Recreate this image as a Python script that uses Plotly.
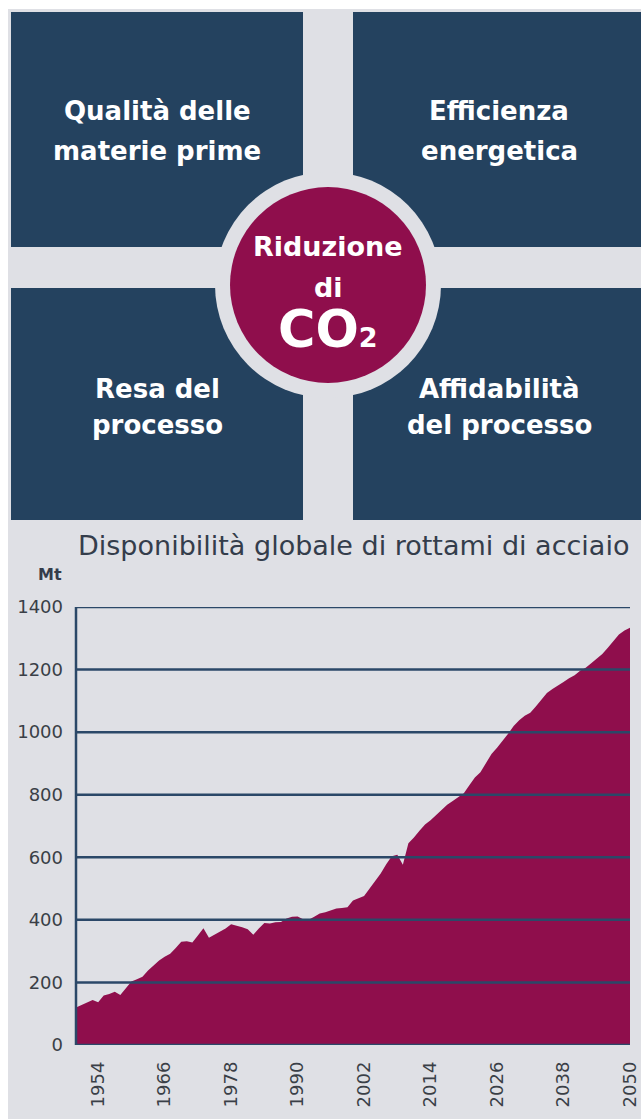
import plotly.graph_objects as go

# ---------------- data ----------------
years = list(range(1950, 2051))
scrap_mt = [120, 128, 135, 144, 137, 158, 163, 170, 160, 182,
            203, 210, 218, 238, 255, 270, 282, 292, 310, 330,
            332, 328, 350, 373, 343, 352, 362, 372, 386, 382,
            376, 370, 352, 372, 390, 388, 392, 393, 404, 410,
            411, 402, 400, 410, 420, 424, 430, 436, 438, 440,
            462, 468, 476, 500, 525, 548, 578, 603, 608, 576,
            645, 663, 685, 705, 718, 735, 752, 768, 780, 792,
            805, 830, 855, 872, 900, 930, 950, 972, 995, 1020,
            1038, 1052, 1062, 1082, 1104, 1125, 1138, 1148, 1160, 1172,
            1182, 1196, 1206, 1220, 1235, 1250, 1270, 1292, 1312, 1325,
            1334]
x_ticks = [1954, 1966, 1978, 1990, 2002, 2014, 2026, 2038, 2050]
y_ticks = [0, 200, 400, 600, 800, 1000, 1200, 1400]

chart_title = "Disponibilità globale di rottami di acciaio"
unit_label = "Mt"
quadrant_labels = [["Qualità delle", "materie prime"],
                   ["Efficienza", "energetica"],
                   ["Resa del", "processo"],
                   ["Affidabilità", "del processo"]]
center_labels = ["Riduzione", "di", "CO<span style='font-size:27px'>2</span>"]

# ---------------- styling ----------------
W, H = 641, 1119
NAVY = "#24425f"
CRIMSON = "#8f0e4c"
GRAY = "#dfe0e5"
GRID = "#2b4868"
TXT = "#343d4b"
FONT = "DejaVu Sans"


def px(x):
    return x / W


def py(y):
    return 1 - y / H


shapes = []
# light gray background panel
shapes.append(dict(type="rect", xref="paper", yref="paper", layer="below",
                   x0=px(8), x1=px(W), y0=py(H), y1=py(9),
                   fillcolor=GRAY, line=dict(width=0)))
# four navy quadrants
quads = [(11, 303, 12, 247), (353, W, 12, 247), (11, 303, 288, 520), (353, W, 288, 520)]
for (a, b, c, d) in quads:
    shapes.append(dict(type="rect", xref="paper", yref="paper", layer="below",
                       x0=px(a), x1=px(b), y0=py(d), y1=py(c),
                       fillcolor=NAVY, line=dict(width=0)))
# central circle with ring
cx, cy = 328, 285
for r, col in [(113, GRAY), (98, CRIMSON)]:
    shapes.append(dict(type="circle", xref="paper", yref="paper", layer="below",
                       x0=px(cx - r), x1=px(cx + r), y0=py(cy + r), y1=py(cy - r),
                       fillcolor=col, line=dict(width=0)))

annotations = []
quad_centers = [(157, 111, 151), (499, 111, 151), (157, 389, 425), (499, 389, 425)]
for lines, (qx, y1, y2) in zip(quadrant_labels, quad_centers):
    for t, yy in zip(lines, (y1, y2)):
        annotations.append(dict(text=t, x=px(qx), y=py(yy), xref="paper", yref="paper",
                                showarrow=False, xanchor="center", yanchor="middle",
                                font=dict(family=FONT, size=26, color="white", weight="bold")))
center_pos = [(246, 27), (287, 27), (330, 51)]
for t, (yy, fs) in zip(center_labels, center_pos):
    annotations.append(dict(text=t, x=px(cx), y=py(yy), xref="paper", yref="paper",
                            showarrow=False, xanchor="center", yanchor="middle",
                            font=dict(family=FONT, size=fs, color="white", weight="bold")))
# chart title and unit
annotations.append(dict(text=chart_title, x=px(354), y=py(545), xref="paper", yref="paper",
                        showarrow=False, xanchor="center", yanchor="middle",
                        font=dict(family=FONT, size=27, color=TXT)))
annotations.append(dict(text=unit_label, x=px(64), y=py(574), xref="paper", yref="paper",
                        showarrow=False, xanchor="right", yanchor="middle",
                        font=dict(family=FONT, size=16, color=TXT, weight="bold")))

# gridlines drawn above the area
for v in y_ticks:
    shapes.append(dict(type="line", xref="x domain", yref="y", layer="above",
                       x0=0, x1=1, y0=v, y1=v, line=dict(color=GRID, width=2.5)))
shapes.append(dict(type="line", xref="x domain", yref="y", layer="above",
                   x0=0, x1=0, y0=y_ticks[0], y1=y_ticks[-1], line=dict(color=GRID, width=2.5)))

fig = go.Figure()
fig.add_trace(go.Scatter(x=years, y=scrap_mt, mode="lines", fill="tozeroy",
                         line=dict(width=0, color=CRIMSON), fillcolor=CRIMSON,
                         hoverinfo="skip", showlegend=False))

fig.update_layout(
    width=W, height=H,
    margin=dict(l=0, r=0, t=0, b=0),
    paper_bgcolor="white",
    plot_bgcolor="rgba(0,0,0,0)",
    shapes=shapes,
    annotations=annotations,
    showlegend=False,
    xaxis=dict(domain=[px(76), px(630)], range=[1950, 2050], tickvals=x_ticks,
               tickangle=-90, showgrid=False, zeroline=False, showline=False,
               ticks="", ticklabelstandoff=12, automargin=False,
               tickfont=dict(family=FONT, size=18, color="#3a3f47")),
    yaxis=dict(domain=[py(1045), py(607)], range=[0, 1400], tickvals=y_ticks,
               showgrid=False, zeroline=False, showline=False, ticks="",
               ticklabelstandoff=12, automargin=False,
               tickfont=dict(family=FONT, size=18, color="#3a3f47")),
)

fig.write_html("out.html", config={"displayModeBar": False},
               post_script="document.body.style.margin='0';document.body.style.overflow='hidden';")
